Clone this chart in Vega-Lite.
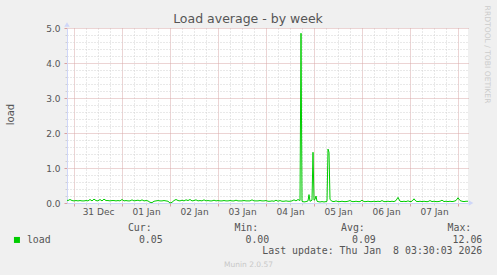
{
 "$schema": "https://vega.github.io/schema/vega-lite/v6.json",
 "width": 401, "height": 175,
 "autosize": {"type": "none"},
 "padding": {"left": 67, "top": 28, "right": 29, "bottom": 72},
 "background": "#f0f0f0",
 "config": {"view": {"fill": "#ffffff", "stroke": null}, "font": "DejaVu Sans"},
 "title": {"text": "Load average - by week", "font": "DejaVu Sans", "fontSize": 12.5, "fontWeight": "normal", "color": "#555555", "anchor": "middle", "frame": "group", "dx": -19.5, "dy": 24, "offset": 4},
 "datasets": {
  "series": [
   {"h":-3.5,"v":0.08},{"h":-3,"v":0.07},{"h":-2,"v":0.1},{"h":-1,"v":0.07},{"h":0,"v":0.06},{"h":1,"v":0.07},{"h":2,"v":0.06},{"h":3,"v":0.07},{"h":4,"v":0.06},{"h":5,"v":0.06},
   {"h":6,"v":0.07},{"h":7,"v":0.06},{"h":8,"v":0.1},{"h":9,"v":0.06},{"h":10,"v":0.11},{"h":11,"v":0.07},{"h":12,"v":0.06},{"h":13,"v":0.1},{"h":14,"v":0.06},{"h":15,"v":0.11},
   {"h":16,"v":0.07},{"h":17,"v":0.07},{"h":18,"v":0.06},{"h":19,"v":0.07},{"h":20,"v":0.07},{"h":21,"v":0.06},{"h":22,"v":0.07},{"h":23,"v":0.06},{"h":24,"v":0.1},{"h":25,"v":0.06},
   {"h":26,"v":0.07},{"h":27,"v":0.06},{"h":28,"v":0.06},{"h":29,"v":0.09},{"h":30,"v":0.06},{"h":31,"v":0.07},{"h":32,"v":0.08},{"h":33,"v":0.06},{"h":34,"v":0.09},{"h":35,"v":0.06},
   {"h":36,"v":0.07},{"h":37,"v":0.06},{"h":38,"v":0.02},{"h":39,"v":0.01},{"h":40,"v":0.05},{"h":41,"v":0.06},{"h":42,"v":0.07},{"h":43,"v":0.06},{"h":44,"v":0.06},{"h":45,"v":0.07},
   {"h":46,"v":0.06},{"h":47,"v":0.05},{"h":48,"v":0.0},{"h":49,"v":0.02},{"h":50,"v":0.07},{"h":51,"v":0.1},{"h":52,"v":0.07},{"h":53,"v":0.06},{"h":54,"v":0.08},{"h":55,"v":0.06},
   {"h":56,"v":0.09},{"h":57,"v":0.07},{"h":58,"v":0.1},{"h":59,"v":0.06},{"h":60,"v":0.07},{"h":61,"v":0.09},{"h":62,"v":0.06},{"h":63,"v":0.07},{"h":64,"v":0.06},{"h":65,"v":0.09},
   {"h":66,"v":0.06},{"h":67,"v":0.07},{"h":68,"v":0.06},{"h":69,"v":0.06},{"h":70,"v":0.08},{"h":71,"v":0.06},{"h":72,"v":0.07},{"h":73,"v":0.06},{"h":74,"v":0.06},{"h":75,"v":0.07},
   {"h":76,"v":0.06},{"h":77,"v":0.06},{"h":78,"v":0.07},{"h":79,"v":0.06},{"h":80,"v":0.06},{"h":81,"v":0.08},{"h":82,"v":0.06},{"h":83,"v":0.06},{"h":84,"v":0.06},{"h":85,"v":0.07},
   {"h":86,"v":0.06},{"h":87,"v":0.06},{"h":88,"v":0.06},{"h":89,"v":0.09},{"h":90,"v":0.06},{"h":91,"v":0.06},{"h":92,"v":0.06},{"h":93,"v":0.07},{"h":94,"v":0.06},{"h":95,"v":0.06},
   {"h":96,"v":0.07},{"h":97,"v":0.05},{"h":98,"v":0.05},{"h":99,"v":0.06},{"h":100,"v":0.05},{"h":101,"v":0.08},{"h":102,"v":0.05},{"h":103,"v":0.07},{"h":104,"v":0.05},{"h":105,"v":0.05},
   {"h":106,"v":0.06},{"h":107,"v":0.05},{"h":108,"v":0.05},{"h":109,"v":0.06},{"h":110,"v":0.09},{"h":111,"v":0.06},{"h":112,"v":0.1},{"h":113,"v":0.07},{"h":113.5,"v":4.85},{"h":114,"v":0.05},
   {"h":115,"v":0.03},{"h":116,"v":0.04},{"h":117,"v":0.06},{"h":117.5,"v":0.24},{"h":118,"v":0.05},{"h":119,"v":0.08},{"h":119.5,"v":1.45},{"h":120,"v":0.08},{"h":120.5,"v":0.1},{"h":121,"v":0.2},
   {"h":121.5,"v":0.05},{"h":122,"v":0.04},{"h":123,"v":0.03},{"h":124,"v":0.04},{"h":125,"v":0.03},{"h":126,"v":0.04},{"h":126.5,"v":0.05},{"h":127,"v":1.54},{"h":127.5,"v":1.45},{"h":128,"v":0.1},
   {"h":129,"v":0.05},{"h":130,"v":0.04},{"h":131,"v":0.06},{"h":132,"v":0.04},{"h":133,"v":0.04},{"h":134,"v":0.05},{"h":135,"v":0.04},{"h":136,"v":0.04},{"h":137,"v":0.05},{"h":138,"v":0.07},
   {"h":139,"v":0.04},{"h":140,"v":0.04},{"h":141,"v":0.05},{"h":142,"v":0.04},{"h":143,"v":0.04},{"h":144,"v":0.08},{"h":145,"v":0.04},{"h":146,"v":0.04},{"h":147,"v":0.05},{"h":148,"v":0.04},
   {"h":149,"v":0.04},{"h":150,"v":0.05},{"h":151,"v":0.04},{"h":152,"v":0.05},{"h":153,"v":0.04},{"h":154,"v":0.07},{"h":155,"v":0.04},{"h":156,"v":0.04},{"h":157,"v":0.05},{"h":158,"v":0.04},
   {"h":159,"v":0.05},{"h":160,"v":0.04},{"h":161,"v":0.07},{"h":162,"v":0.16},{"h":163,"v":0.05},{"h":164,"v":0.04},{"h":165,"v":0.05},{"h":166,"v":0.04},{"h":167,"v":0.06},{"h":168,"v":0.04},
   {"h":169,"v":0.05},{"h":170,"v":0.12},{"h":171,"v":0.05},{"h":172,"v":0.04},{"h":173,"v":0.05},{"h":174,"v":0.04},{"h":175,"v":0.05},{"h":176,"v":0.04},{"h":177,"v":0.04},{"h":178,"v":0.07},
   {"h":179,"v":0.04},{"h":180,"v":0.05},{"h":181,"v":0.04},{"h":182,"v":0.04},{"h":183,"v":0.05},{"h":184,"v":0.08},{"h":185,"v":0.04},{"h":186,"v":0.05},{"h":187,"v":0.04},{"h":188,"v":0.05},
   {"h":189,"v":0.04},{"h":190,"v":0.05},{"h":191,"v":0.07},{"h":192,"v":0.15},{"h":193,"v":0.07},{"h":194,"v":0.05},{"h":195,"v":0.04},{"h":196,"v":0.05},{"h":197,"v":0.05}
  ],
  "stats": [
   {"stat":"Cur","line":"head","text":"Cur:"},{"stat":"Cur","line":"val","text":"0.05"},
   {"stat":"Min","line":"head","text":"Min:"},{"stat":"Min","line":"val","text":"0.00"},
   {"stat":"Avg","line":"head","text":"Avg:"},{"stat":"Avg","line":"val","text":"0.09"},
   {"stat":"Max","line":"head","text":"Max:"},{"stat":"Max","line":"val","text":"12.06"},
   {"stat":"Max","line":"upd","text":"Last update: Thu Jan \u00a08 03:30:03 2026"}
  ]
 },
 "layer": [
  {
   "layer": [
    {
     "data": {"name": "series"},
     "mark": {"type": "line", "strokeWidth": 1, "interpolate": "linear"},
     "encoding": {
      "x": {"field": "h", "type": "quantitative", "scale": {"domain": [-3.5, 197], "nice": false, "zero": false},
            "axis": {"orient": "bottom", "values": [6,12,18,30,36,42,54,60,66,78,84,90,102,108,114,126,132,138,150,156,162,174,180,186],
                     "labels": false, "title": null, "grid": true, "gridColor": "#d2d2d2", "gridDash": [1,2], "ticks": true, "tickColor": "#d0d0d0", "tickSize": 2, "domain": false}},
      "y": {"field": "v", "type": "quantitative", "scale": {"domain": [0, 5], "nice": false, "zero": false},
            "axis": {"orient": "left", "values": [0.2,0.4,0.6,0.8,1.2,1.4,1.6,1.8,2.2,2.4,2.6,2.8,3.2,3.4,3.6,3.8,4.2,4.4,4.6,4.8],
                     "labels": false, "title": null, "grid": true, "gridColor": "#d2d2d2", "gridDash": [1,2], "ticks": true, "tickColor": "#d0d0d0", "tickSize": 2, "domain": false}},
      "color": {"datum": "load", "type": "nominal", "scale": {"range": ["#00cc00"]},
                "legend": {"orient": "none", "legendX": -55, "legendY": 207, "title": null, "padding": 0,
                           "symbolType": "square", "symbolSize": 36, "symbolStrokeWidth": 0, "symbolFillColor": "#00cc00",
                           "labelFont": "DejaVu Sans Mono", "labelFontSize": 9.9, "labelColor": "#555555", "labelOffset": 5,
                           "encode": {"symbols": {"update": {"fill": {"value": "#00cc00"}, "stroke": {"value": "#00cc00"}, "strokeWidth": {"value": 0}}}}}}
     }
    },
    {
     "data": {"values": [{}]},
     "mark": {"type": "point", "shape": "triangle-right", "filled": true, "size": 30, "color": "#cfd6f8", "opacity": 1},
     "encoding": {
      "x": {"datum": 198.5, "type": "quantitative", "scale": {"domain": [-3.5, 197], "nice": false, "zero": false},
            "axis": {"orient": "bottom", "values": [0,24,48,72,96,120,144,168,192], "labels": false, "title": null,
                     "grid": true, "gridColor": "#d8a8a8", "gridDash": [1,1], "ticks": true, "tickColor": "#d9a0a0", "tickSize": 3,
                     "domain": true, "domainColor": "#cfd6f8"}},
      "y": {"datum": 0, "type": "quantitative", "scale": {"domain": [0, 5], "nice": false, "zero": false},
            "axis": {"orient": "left", "values": [0,1,2,3,4,5], "format": ".1f",
                     "grid": true, "gridColor": {"condition": {"test": "datum.value == 0", "value": "transparent"}, "value": "#d8a8a8"}, "gridDash": [1,1],
                     "ticks": true, "tickColor": "#d9a0a0", "tickSize": 3, "domain": true, "domainColor": "#cfd6f8",
                     "labelFont": "DejaVu Sans", "labelFontSize": 9, "labelColor": "#555555", "labelPadding": 4,
                     "title": "load", "titleFont": "DejaVu Sans", "titleFontSize": 10, "titleFontWeight": "normal", "titleColor": "#555555",
                     "titleX": -57, "titleY": 86, "titleAngle": -90, "titleAlign": "center", "titleBaseline": "middle"}}
     }
    },
    {
     "data": {"values": [{}]},
     "mark": {"type": "point", "shape": "triangle-up", "filled": true, "size": 30, "color": "#cfd6f8", "opacity": 1},
     "encoding": {
      "x": {"datum": -3.5, "type": "quantitative", "scale": {"domain": [-3.5, 197], "nice": false, "zero": false},
            "axis": {"orient": "bottom", "values": [12,36,60,84,108,132,156,180],
                     "labelExpr": "['31 Dec','01 Jan','02 Jan','03 Jan','04 Jan','05 Jan','06 Jan','07 Jan'][round((datum.value-12)/24)]",
                     "grid": false, "ticks": false, "domain": false, "labelFont": "DejaVu Sans", "labelFontSize": 9, "labelColor": "#555555", "labelPadding": 4,
                     "title": "Munin 2.0.57", "titleFont": "DejaVu Sans", "titleFontSize": 7.5, "titleFontWeight": "normal", "titleColor": "#c8c8c8",
                     "titleX": 181, "titleY": 61, "titleAlign": "center", "titleBaseline": "middle"}},
      "y": {"datum": 5.1, "type": "quantitative", "scale": {"domain": [0, 5], "nice": false, "zero": false},
            "axis": {"orient": "right", "labels": false, "ticks": false, "grid": false, "domain": false,
                     "title": "RRDTOOL / TOBI OETIKER", "titleFont": "DejaVu Sans", "titleFontSize": 7.6, "titleFontWeight": "normal", "titleColor": "#cccccc",
                     "titleX": 18, "titleY": 26, "titleAngle": 90, "titleAlign": "center", "titleBaseline": "middle"}}
     }
    }
   ],
   "resolve": {"scale": {"x": "shared", "y": "shared"}, "axis": {"x": "independent", "y": "independent"}}
  },
  {
   "data": {"name": "stats"},
   "transform": [{"filter": "datum.line == 'head'"}],
   "mark": {"type": "text", "align": "right", "baseline": "middle", "dx": -11, "font": "DejaVu Sans Mono", "fontSize": 9.9, "color": "#555555"},
   "encoding": {
    "x": {"field": "stat", "type": "nominal", "scale": {"type": "point", "padding": 0, "domain": ["Cur","Min","Avg","Max"], "range": [95.7, 415.3]}, "axis": null},
    "y": {"field": "line", "type": "nominal", "scale": {"type": "point", "padding": 0, "domain": ["head","val","upd"], "range": [199.7, 223.3]}, "axis": null},
    "text": {"field": "text"}
   }
  },
  {
   "data": {"name": "stats"},
   "transform": [{"filter": "datum.line != 'head'"}],
   "mark": {"type": "text", "align": "right", "baseline": "middle", "font": "DejaVu Sans Mono", "fontSize": 9.9, "color": "#555555"},
   "encoding": {
    "x": {"field": "stat", "type": "nominal", "scale": {"type": "point", "padding": 0, "domain": ["Cur","Min","Avg","Max"], "range": [95.7, 415.3]}, "axis": null},
    "y": {"field": "line", "type": "nominal", "scale": {"type": "point", "padding": 0, "domain": ["head","val","upd"], "range": [199.7, 223.3]}, "axis": null},
    "text": {"field": "text"}
   }
  }
 ],
 "resolve": {"scale": {"x": "independent", "y": "independent", "color": "independent"}, "axis": {"x": "independent", "y": "independent"}}
}
